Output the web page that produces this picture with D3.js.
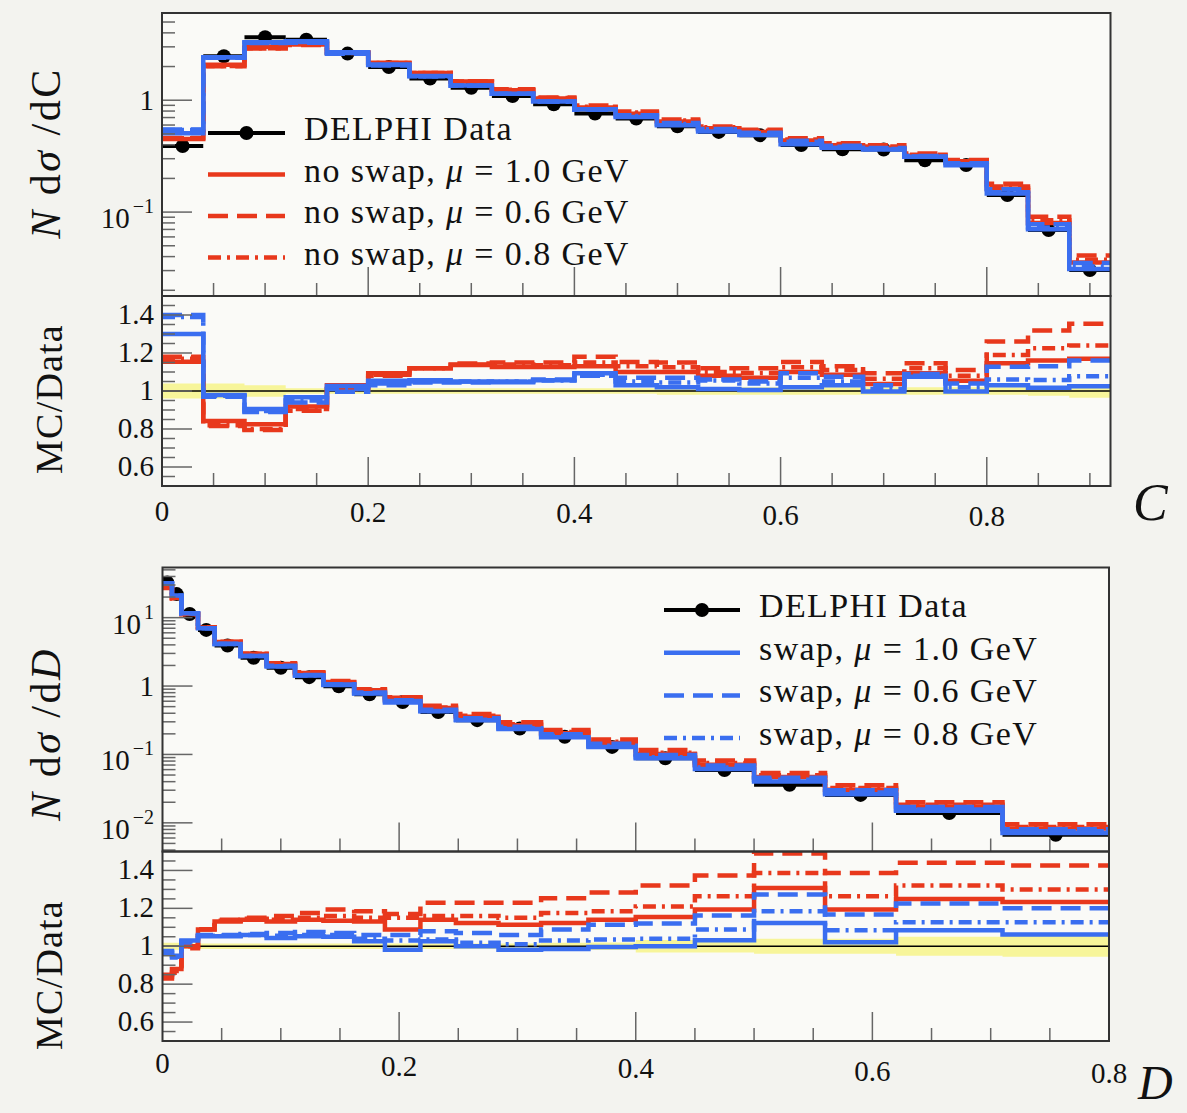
<!DOCTYPE html>
<html><head><meta charset="utf-8">
<script src="https://cdn.jsdelivr.net/npm/d3@7"></script>
<style>
body{margin:0;background:#f3f3ef;}
svg{display:block;}
text{font-family:"Liberation Serif","Times New Roman",serif;fill:#111;}
</style>
</head><body>
<svg id="chart" width="1187" height="1113"></svg>
<script>
// ---------------- DATA ----------------
// C-parameter panel
const cEdges = [0,0.04,0.08,0.12,0.16,0.2,0.24,0.28,0.32,0.36,0.4,0.44,0.48,0.52,0.56,0.6,0.64,0.68,0.72,0.76,0.8,0.84,0.88,0.92];
const cData  = [0.39,2.47,3.65,3.48,2.61,1.98,1.56,1.29,1.09,0.92,0.76,0.687,0.586,0.521,0.487,0.397,0.365,0.363,0.291,0.263,0.142,0.069,0.0303];
const cErr   = [0.04,0.04,0.03,0.015,0.015,0.015,0.015,0.015,0.015,0.015,0.015,0.015,0.02,0.02,0.02,0.02,0.02,0.02,0.02,0.02,0.02,0.025,0.035];
const cNoSwap10 = [1.154,0.842,0.825,0.918,1.03,1.093,1.12,1.137,1.126,1.126,1.13,1.10,1.10,1.08,1.07,1.10,1.085,1.037,1.093,1.054,1.146,1.16,1.17];
const cNoSwap06 = [1.18,0.816,0.795,0.896,1.01,1.08,1.12,1.145,1.15,1.15,1.18,1.153,1.15,1.12,1.12,1.153,1.13,1.093,1.146,1.11,1.26,1.318,1.354];
const cNoSwap08 = [1.17,0.82,0.80,0.905,1.02,1.085,1.12,1.14,1.14,1.135,1.15,1.13,1.125,1.10,1.095,1.125,1.11,1.065,1.12,1.08,1.19,1.225,1.24];
const cSwap10   = [1.30,0.979,0.905,0.967,1.026,1.054,1.057,1.05,1.046,1.057,1.093,1.03,1.02,1.01,1.005,1.02,1.03,0.997,1.075,0.997,1.03,1.017,1.025];
const cSwap06   = [1.40,0.97,0.89,0.94,0.996,1.03,1.045,1.045,1.05,1.06,1.08,1.07,1.07,1.06,1.05,1.093,1.075,1.03,1.09,1.04,1.127,1.13,1.16];
const cSwap08   = [1.39,0.975,0.895,0.95,1.01,1.04,1.05,1.05,1.05,1.055,1.085,1.05,1.045,1.055,1.04,1.07,1.05,1.01,1.08,1.02,1.06,1.058,1.077];

// D-parameter panel
const dEdges = [0,0.008,0.016,0.03,0.044,0.066,0.088,0.112,0.136,0.162,0.188,0.218,0.248,0.284,0.32,0.36,0.4,0.45,0.5,0.56,0.62,0.71,0.8];
const dData  = [32.6,22.1,11.3,6.62,3.91,2.59,1.85,1.35,0.99,0.757,0.585,0.418,0.317,0.24,0.181,0.129,0.0877,0.0593,0.0359,0.0256,0.0139,0.00671];
const dErr   = [0.018,0.018,0.015,0.015,0.015,0.015,0.015,0.015,0.015,0.015,0.015,0.015,0.015,0.015,0.018,0.02,0.033,0.033,0.04,0.04,0.05,0.055];
const dNoSwap10 = [0.85,0.88,1.0,1.088,1.13,1.14,1.13,1.14,1.135,1.13,1.088,1.14,1.123,1.114,1.123,1.14,1.155,1.194,1.308,1.194,1.25,1.233];
const dNoSwap06 = [0.83,0.86,0.99,1.09,1.14,1.15,1.16,1.176,1.194,1.185,1.17,1.23,1.23,1.23,1.253,1.283,1.32,1.373,1.49,1.387,1.44,1.426];
const dNoSwap08 = [0.84,0.87,1.0,1.09,1.135,1.145,1.14,1.15,1.16,1.15,1.15,1.16,1.16,1.15,1.176,1.185,1.21,1.264,1.387,1.264,1.32,1.30];
const dSwap10   = [0.975,0.95,1.03,1.053,1.053,1.06,1.044,1.053,1.05,1.026,0.982,1.026,1.0,0.982,0.985,0.996,1.0,1.032,1.123,1.021,1.085,1.062];
const dSwap06   = [0.965,0.94,1.02,1.06,1.06,1.065,1.07,1.075,1.07,1.06,1.06,1.079,1.07,1.06,1.088,1.114,1.12,1.162,1.273,1.167,1.226,1.20];
const dSwap08   = [0.97,0.945,1.025,1.055,1.055,1.06,1.055,1.06,1.06,1.04,1.03,1.035,1.018,1.01,1.03,1.035,1.039,1.088,1.185,1.085,1.127,1.127];

// tick labels
const xTickValues = [0,0.2,0.4,0.6,0.8];
const xTickLabels = ["0","0.2","0.4","0.6","0.8"];
const ratioTickValues = [0.6,0.8,1,1.2,1.4];
const ratioTickLabels = ["0.6","0.8","1","1.2","1.4"];
const cLogTickValues = [0.1,1];
const dLogTickValues = [0.01,0.1,1,10];
const muValues = ["1.0","0.6","0.8"];

// ---------------- STYLE ----------------
const RED="#e8381c", BLUE="#3a6ef0";
const DASH="20,9", DASHDOT="13,6,3,6";
const LW=4.5;

const svg=d3.select("#chart");
const defs=svg.append("defs");
svg.append("rect").attr("width",1187).attr("height",1113).attr("fill","#f3f3ef");

function stepPts(edges, vals){
  const pts=vals.map((v,i)=>[edges[i],v]);
  pts.push([edges[edges.length-1], vals[vals.length-1]]);
  return pts;
}

function powLabel(sel, v){
  const e=Math.round(Math.log10(v));
  if(e===0){ sel.text("1"); return; }
  sel.append("tspan").text("10");
  sel.append("tspan").attr("dx",3).attr("dy",-15).attr("font-size",20).text(e<0?"\u2212"+(-e):String(e));
}

function drawPanel(cfg){
  const x=d3.scaleLinear().domain(cfg.xDom).range(cfg.xRng);
  const y=d3.scaleLog().domain(cfg.yDom).range([cfg.ySplit,cfg.yTop]);
  const r=d3.scaleLinear().domain([0.5,1.5]).range([cfg.yBot,cfg.ySplit]);
  const x0=cfg.xRng[0], x1=cfg.xRng[1];
  const edges=cfg.edges, data=cfg.data;

  svg.append("rect").attr("x",x0).attr("y",cfg.yTop).attr("width",x1-x0)
     .attr("height",cfg.yBot-cfg.yTop).attr("fill","#fafaf7");

  defs.append("clipPath").attr("id",cfg.id+"m").append("rect")
     .attr("x",x0).attr("y",cfg.yTop).attr("width",x1-x0).attr("height",cfg.ySplit-cfg.yTop);
  defs.append("clipPath").attr("id",cfg.id+"r").append("rect")
     .attr("x",x0).attr("y",cfg.ySplit).attr("width",x1-x0).attr("height",cfg.yBot-cfg.ySplit);

  // ---- main panel
  const gm=svg.append("g").attr("clip-path",`url(#${cfg.id}m)`);
  data.forEach((v,i)=>{
    gm.append("line").attr("x1",x(edges[i])).attr("x2",x(edges[i+1]))
      .attr("y1",y(v)).attr("y2",y(v)).attr("stroke","#000").attr("stroke-width",4);
    gm.append("circle").attr("cx",x((edges[i]+edges[i+1])/2)).attr("cy",y(v)).attr("r",7).attr("fill","#000");
  });
  const line=d3.line().x(d=>x(d[0])).curve(d3.curveStepAfter);
  cfg.series.forEach(s=>{
    const vals=s.vals.map((rv,i)=>rv*data[i]);
    gm.append("path").attr("d",line.y(d=>y(d[1]))(stepPts(edges,vals)))
      .attr("fill","none").attr("stroke",s.color).attr("stroke-width",LW)
      .attr("stroke-dasharray",s.dash);
  });

  // ---- ratio panel
  const gr=svg.append("g").attr("clip-path",`url(#${cfg.id}r)`);
  const bandPts=cfg.err.map((e,i)=>[edges[i],1-e,1+e]);
  bandPts.push([edges[edges.length-1],1-cfg.err[cfg.err.length-1],1+cfg.err[cfg.err.length-1]]);
  gr.append("path").attr("d",d3.area().x(d=>x(d[0])).y0(d=>r(d[1])).y1(d=>r(d[2])).curve(d3.curveStepAfter)(bandPts))
    .attr("fill","#f7f59a");
  gr.append("line").attr("x1",x0).attr("x2",x1).attr("y1",r(1)).attr("y2",r(1))
    .attr("stroke","#000").attr("stroke-width",1.5);
  cfg.series.forEach(s=>{
    gr.append("path").attr("d",d3.line().x(d=>x(d[0])).y(d=>r(d[1])).curve(d3.curveStepAfter)(stepPts(edges,s.vals)))
      .attr("fill","none").attr("stroke",s.color).attr("stroke-width",LW)
      .attr("stroke-dasharray",s.dash);
  });

  // ---- ticks
  const gt=svg.append("g").attr("stroke","#666").attr("stroke-width",1.5);
  const lo=Math.floor(Math.log10(cfg.yDom[0])), hi=Math.ceil(Math.log10(cfg.yDom[1]));
  for(let d=lo; d<=hi; d++){
    for(let k=1;k<=9;k++){
      const v=k*Math.pow(10,d);
      if(v<cfg.yDom[0]||v>cfg.yDom[1]) continue;
      const len=k===1?30:13;
      gt.append("line").attr("x1",x0).attr("x2",x0+len).attr("y1",y(v)).attr("y2",y(v));
    }
  }
  d3.range(11,30).forEach(i=>{
    const v=i*0.05;
    const major=Math.abs(v*5-Math.round(v*5))<1e-6;
    gt.append("line").attr("x1",x0).attr("x2",x0+(major?30:13)).attr("y1",r(v)).attr("y2",r(v));
  });
  const nx=Math.floor(cfg.xDom[1]/0.05+1e-6);
  d3.range(1,nx+1).forEach(i=>{
    const v=i*0.05;
    if(x(v)>=x1-1) return;
    const major=Math.abs(v*5-Math.round(v*5))<1e-6;
    const len=major?29:13;
    gt.append("line").attr("x1",x(v)).attr("x2",x(v)).attr("y1",cfg.ySplit).attr("y2",cfg.ySplit-len);
    gt.append("line").attr("x1",x(v)).attr("x2",x(v)).attr("y1",cfg.yBot).attr("y2",cfg.yBot-len);
  });

  // ---- frames
  svg.append("rect").attr("x",x0).attr("y",cfg.yTop).attr("width",x1-x0).attr("height",cfg.ySplit-cfg.yTop)
     .attr("fill","none").attr("stroke","#333").attr("stroke-width",2);
  svg.append("rect").attr("x",x0).attr("y",cfg.ySplit).attr("width",x1-x0).attr("height",cfg.yBot-cfg.ySplit)
     .attr("fill","none").attr("stroke","#333").attr("stroke-width",2);

  // ---- tick labels
  cfg.logTicks.forEach(v=>{
    const t=svg.append("text").attr("x",154).attr("text-anchor","end").attr("font-size",29)
      .attr("y",y(v)+(v===1?10:16));
    powLabel(t,v);
  });
  ratioTickValues.forEach((v,i)=>{
    svg.append("text").attr("x",154).attr("y",r(v)+9).attr("text-anchor","end").attr("font-size",29).text(ratioTickLabels[i]);
  });
  xTickValues.forEach((v,i)=>{
    const px=x(v);
    svg.append("text").attr("x",px).attr("y",cfg.xLabBase+cfg.xLabSlope*(px-x0))
      .attr("text-anchor","middle").attr("font-size",29).text(xTickLabels[i]);
  });

  // ---- axis titles
  const tt=svg.append("text").attr("transform",`translate(60,${cfg.titleY}) rotate(-90)`)
     .attr("text-anchor","middle").attr("font-size",42).attr("letter-spacing",2.5);
  tt.append("tspan").attr("font-style","italic").text("N");
  tt.append("tspan").text(" d");
  tt.append("tspan").attr("font-style","italic").text("\u03c3");
  tt.append("tspan").text(" /d");
  tt.append("tspan").attr("font-style",cfg.varItalicInTitle?"italic":"normal").text(cfg.varName);
  svg.append("text").attr("transform",`translate(62,${cfg.ratioTitleY}) rotate(-90)`)
     .attr("text-anchor","middle").attr("font-size",38).attr("letter-spacing",1.2).text("MC/Data");
  svg.append("text").attr("x",cfg.varX).attr("y",cfg.varY).attr("font-size",cfg.varSize)
     .attr("font-style","italic").text(cfg.varName);

  // ---- legend
  const L=cfg.legend;
  L.entries.forEach((e,i)=>{
    const ly=L.y0+i*L.dy;
    if(e.type==="data"){
      svg.append("line").attr("x1",L.x0).attr("x2",L.x1).attr("y1",ly).attr("y2",ly).attr("stroke","#000").attr("stroke-width",4);
      svg.append("circle").attr("cx",(L.x0+L.x1)/2).attr("cy",ly).attr("r",7).attr("fill","#000");
    } else {
      svg.append("line").attr("x1",L.x0).attr("x2",L.x1).attr("y1",ly).attr("y2",ly)
        .attr("stroke",e.color).attr("stroke-width",LW).attr("stroke-dasharray",e.dash);
    }
    const t=svg.append("text").attr("x",L.tx).attr("y",ly+7).attr("font-size",34).attr("letter-spacing",1.4);
    if(e.type==="data"){ t.text("DELPHI Data"); }
    else {
      t.append("tspan").text(e.prefix+", ");
      t.append("tspan").attr("font-style","italic").text("\u03bc");
      t.append("tspan").text(" = "+e.mu+" GeV");
    }
  });
}

const cSeries=[
  {vals:cNoSwap06,color:RED,dash:DASH},{vals:cNoSwap08,color:RED,dash:DASHDOT},{vals:cNoSwap10,color:RED,dash:null},
  {vals:cSwap06,color:BLUE,dash:DASH},{vals:cSwap08,color:BLUE,dash:DASHDOT},{vals:cSwap10,color:BLUE,dash:null}];
const dSeries=[
  {vals:dNoSwap06,color:RED,dash:DASH},{vals:dNoSwap08,color:RED,dash:DASHDOT},{vals:dNoSwap10,color:RED,dash:null},
  {vals:dSwap06,color:BLUE,dash:DASH},{vals:dSwap08,color:BLUE,dash:DASHDOT},{vals:dSwap10,color:BLUE,dash:null}];

drawPanel({id:"c",edges:cEdges,data:cData,err:cErr,series:cSeries,
  xDom:[0,0.92],xRng:[162,1110.5],yDom:[0.01778,6.02],yTop:13,ySplit:296,yBot:486,
  logTicks:cLogTickValues,xLabBase:521,xLabSlope:0.006,
  titleY:153,ratioTitleY:399,varName:"C",varItalicInTitle:false,varX:1133,varY:520,varSize:52,
  legend:{x0:208,x1:285,tx:304,y0:133,dy:41.5,entries:[
    {type:"data"},
    {prefix:"no swap",mu:muValues[0],color:RED,dash:null},
    {prefix:"no swap",mu:muValues[1],color:RED,dash:DASH},
    {prefix:"no swap",mu:muValues[2],color:RED,dash:DASHDOT}]}
});
drawPanel({id:"d",edges:dEdges,data:dData,err:dErr,series:dSeries,
  xDom:[0,0.8],xRng:[162.5,1109],yDom:[0.00381,54.1],yTop:567.5,ySplit:851.5,yBot:1041,
  logTicks:dLogTickValues,xLabBase:1073,xLabSlope:0.011,
  titleY:734,ratioTitleY:975,varName:"D",varItalicInTitle:true,varX:1138,varY:1099,varSize:48,
  legend:{x0:664,x1:740,tx:759,y0:610,dy:42.7,entries:[
    {type:"data"},
    {prefix:"swap",mu:muValues[0],color:BLUE,dash:null},
    {prefix:"swap",mu:muValues[1],color:BLUE,dash:DASH},
    {prefix:"swap",mu:muValues[2],color:BLUE,dash:DASHDOT}]}
});
</script>
</body></html>
